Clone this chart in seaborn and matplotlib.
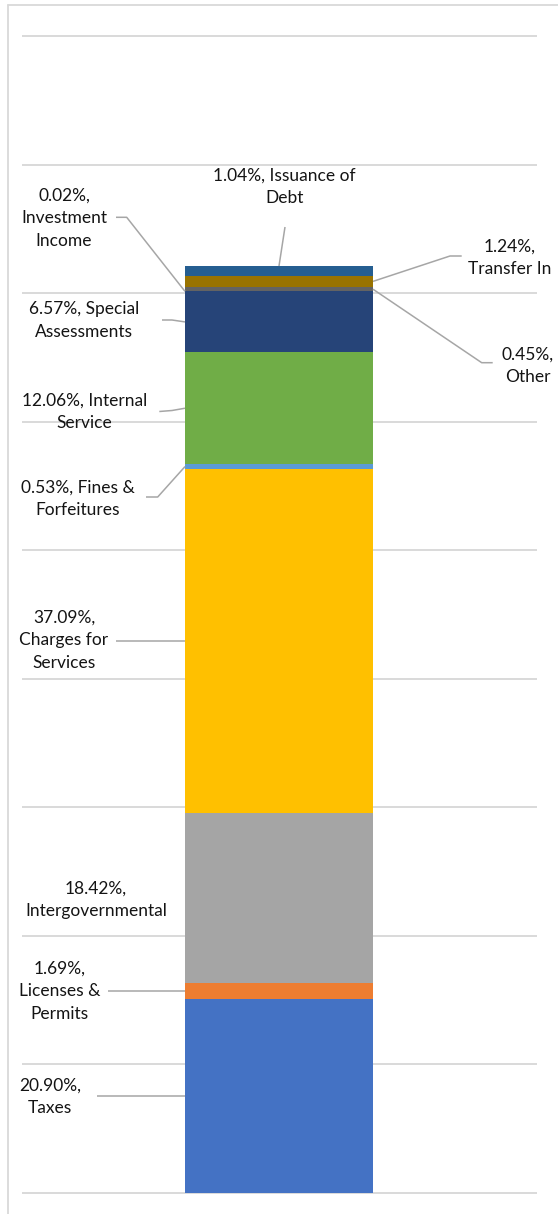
import matplotlib
matplotlib.use("Agg")
import matplotlib.pyplot as plt
from matplotlib.lines import Line2D
import numpy as np
import pandas as pd
import seaborn as sns

# Revenue sources, stacked from the bottom of the column upward
categories = [
    "Taxes", "Licenses & Permits", "Intergovernmental", "Charges for Services",
    "Fines & Forfeitures", "Internal Service", "Special Assessments",
    "Investment Income", "Other", "Transfer In", "Issuance of Debt",
]
shares = [20.90, 1.69, 18.42, 37.09, 0.53, 12.06, 6.57, 0.02, 0.45, 1.24, 1.04]
colors = [
    "#4472C4", "#ED7D31", "#A5A5A5", "#FFC000", "#5B9BD5", "#70AD47",
    "#264478", "#9E480E", "#636363", "#997300", "#255E91",
]
# Wrapped name shown after the percentage, and whether the name starts a new line
label_names = [
    "Taxes", "Licenses &\nPermits", "Intergovernmental", "Charges for\nServices",
    "Fines &\nForfeitures", "Internal\nService", "Special\nAssessments",
    "Investment\nIncome", "Other", "Transfer In", "Issuance of\nDebt",
]
name_on_new_line = [True, True, True, True, False, False, False, True, True, True, False]

# ---- layout (pixels, origin top-left) ----
W, H, DPI = 558, 1214, 100
AX_L, AX_R = 22, 537
BASE_Y, TOP_GRID_Y = 1192.7, 36.3
BAR_TOP_Y = 266.0
BAR_CX, BAR_W = 279.0, 188.0
N_GRID = 9
PAD_TOP, PAD_BOT = 6, 6

TEXT_FONT = ["Lato", "DejaVu Sans"]
TEXT_SIZE = 12.5
TEXT_COLOR = "#141414"
LINE_SPACING = 1.5
LEADER_COLOR = "#A6A6A6"
GRID_COLOR = "#D9D9D9"

# label block centers and leader routes (label end -> optional elbow -> bar)
# side: which point of the segment the leader attaches to
label_layout = {
    "Taxes":               dict(c=(50, 1096.5), pts=[(97, None)], side="left"),
    "Licenses & Permits":  dict(c=(59.5, 991.5), pts=[(108, None)], side="left"),
    "Intergovernmental":   dict(c=(96, 899.5), pts=None, side="left"),
    "Charges for Services": dict(c=(64, 640), pts=[(115.7, None)], side="left"),
    "Fines & Forfeitures": dict(c=(77.5, 499), pts=[(146, 497), (157.7, 497)], side="left"),
    "Internal Service":    dict(c=(84.5, 411.5), pts=[(159.3, 411.5), (172, 410.5)], side="left"),
    "Special Assessments": dict(c=(84, 320.5), pts=[(162, 320), (172, 320)], side="left"),
    "Investment Income":   dict(c=(64, 218), pts=[(116, 217.3), (126.7, 217.3)], side="left"),
    "Other":               dict(c=(527.5, 365.5), pts=[(492.7, 362.7), (481.7, 362.7)], side="right"),
    "Transfer In":         dict(c=(509.7, 258), pts=[(461.7, 256), (450, 256)], side="right"),
    "Issuance of Debt":    dict(c=(284.7, 187), pts=[(285, 227)], side="top"),
}

sns.set_theme(style="white")
plt.rcParams["font.family"] = TEXT_FONT

fig = plt.figure(figsize=(W / DPI, H / DPI), dpi=DPI)
fig.patch.set_facecolor("white")

total = sum(shares)
px_per_unit = (BASE_Y - BAR_TOP_Y) / total
grid_step = (BASE_Y - TOP_GRID_Y) / N_GRID / px_per_unit

ax_top_px = TOP_GRID_Y - PAD_TOP
ax_bot_px = BASE_Y + PAD_BOT
ax = fig.add_axes([AX_L / W, 1 - ax_bot_px / H, (AX_R - AX_L) / W, (ax_bot_px - ax_top_px) / H])

df = pd.DataFrame({"category": categories, "share": shares, "color": colors})
df["top"] = df["share"].cumsum()
df["bottom"] = df["top"] - df["share"]
df["mid"] = (df["top"] + df["bottom"]) / 2

# stacked column: draw cumulative totals from the tallest down so each layer shows
for i in reversed(range(len(df))):
    sns.barplot(x=["Revenue"], y=[df["top"][i]], color=df["color"][i], width=1.0,
                saturation=1, linewidth=0, ax=ax)

ax.set_xlim((AX_L - BAR_CX) / BAR_W, (AX_R - BAR_CX) / BAR_W)
ax.set_ylim(-PAD_BOT / px_per_unit, (BASE_Y - ax_top_px) / px_per_unit)
ax.set_yticks(np.arange(N_GRID + 1) * grid_step)
ax.yaxis.grid(True, color=GRID_COLOR, linewidth=1.4)
ax.xaxis.grid(False)
ax.set_axisbelow(True)
ax.tick_params(left=False, bottom=False, labelleft=False, labelbottom=False)
ax.set_xlabel("")
ax.set_ylabel("")
for s in ax.spines.values():
    s.set_visible(False)
ax.patch.set_alpha(0)

# chart frame (left and top edges)
fig.add_artist(Line2D([7.5 / W, 7.5 / W], [0, 1 - 5.3 / H], transform=fig.transFigure,
                      color=GRID_COLOR, linewidth=1.3))
fig.add_artist(Line2D([7.5 / W, 1], [1 - 5.3 / H, 1 - 5.3 / H], transform=fig.transFigure,
                      color=GRID_COLOR, linewidth=1.3))


def to_fig(x, y):
    return x / W, 1 - y / H


def data_to_px(x, y):
    dx, dy = ax.transData.transform((x, y))
    return dx, H - dy


for i, row in df.iterrows():
    lay = label_layout[row["category"]]
    sep = "\n" if name_on_new_line[i] else " "
    text = f"{row['share']:.2f}%,{sep}{label_names[i]}"
    cx, cy = lay["c"]
    fx, fy = to_fig(cx, cy)
    fig.text(fx, fy, text, ha="center", va="center", multialignment="center",
             fontsize=TEXT_SIZE, color=TEXT_COLOR, linespacing=LINE_SPACING)
    if lay["pts"] is None:
        continue
    if lay["side"] == "left":
        ax_pt = data_to_px(-0.5, row["mid"])
    elif lay["side"] == "right":
        ax_pt = data_to_px(0.5, row["mid"])
    else:
        ax_pt = data_to_px(0.0, row["top"])
    route = [(x, ax_pt[1] if y is None else y) for x, y in lay["pts"]] + [ax_pt]
    xs, ys = zip(*[to_fig(x, y) for x, y in route])
    fig.add_artist(Line2D(xs, ys, transform=fig.transFigure, color=LEADER_COLOR,
                          linewidth=1.1, solid_capstyle="butt"))

fig.savefig("out.png", dpi=DPI, facecolor="white")
